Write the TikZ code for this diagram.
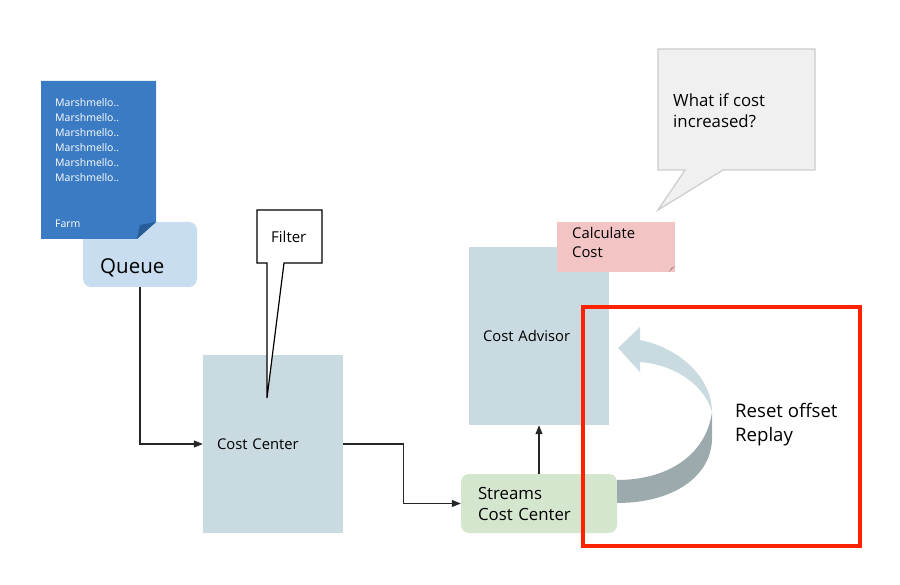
\documentclass[tikz,border=0pt]{standalone}
\usepackage{fontspec}
\setmainfont{Open Sans}
\usetikzlibrary{arrows.meta,positioning,calc}
\definecolor{dc}{RGB}{58,123,196}
\definecolor{df}{RGB}{40,92,150}
\definecolor{qc}{RGB}{200,222,240}
\definecolor{bc}{RGB}{201,219,224}
\definecolor{sc}{RGB}{213,230,206}
\definecolor{pc}{RGB}{242,196,196}
\definecolor{gc}{RGB}{240,240,240}
\definecolor{rib}{RGB}{156,170,173}
\definecolor{hl}{RGB}{255,34,0}
\newcommand{\fs}[2]{\fontsize{#1}{#2}\selectfont}
\tikzset{box/.style={fill=bc,minimum width=140pt,minimum height=178pt,text width=112pt,inner xsep=14pt,align=left},
 rbox/.style={rounded corners=8pt,inner sep=0pt},
 arr/.style={-{Triangle[length=9pt,width=7pt]},line width=1.1pt,draw=black!85},
 txt/.style={inner sep=0pt,anchor=west,align=left},
 every node/.style={font=\fs{14.8}{17}}}
\begin{document}
\begin{tikzpicture}[x=1pt,y=-1pt]
\path[use as bounding box] (0,0) rectangle (900,585);
% queue with message document
\node[rbox,fill=qc,minimum width=114pt,minimum height=65pt] (queue) at (140,254.5) {};
\node[txt,font=\fs{20.5}{22}] (qlab) at (100,268) {Queue};
\fill[dc] (41,81) -- (156,81) -- (156,222) -- (137,239) -- (41,239) -- cycle;
\fill[df] (156,222) -- (137,239) -- (140,225) -- cycle;
\node[inner sep=0pt,anchor=north west,align=left,text=white,font=\fs{10.5}{15}] (msgs) at (55,98.5)
 {Marshmello..\\Marshmello..\\Marshmello..\\Marshmello..\\Marshmello..\\Marshmello..};
\node[txt,text=white,font=\fs{10.5}{12}] (farm) at (55,224) {Farm};
% services
\node[box] (cc) at (273,444) {Cost Center};
\node[box] (adv) at (539,336) {Cost Advisor};
\node[rbox,fill=sc,minimum width=156pt,minimum height=59pt,text width=122pt,inner xsep=17pt,align=left,font=\fs{16.8}{21}] (streams) at (539,503.5) {Streams\\Cost Center};
\draw[arr] (queue.south) |- (cc.west);
\draw[arr] (cc.east) -- ++(60,0) |- (streams.west);
\draw[arr] (streams.north) -- (adv.south);
% filter callout
\draw[fill=white,line width=1.2pt] (257,210) -- (322,210) -- (322,263) -- (284,263) -- (267,398) -- (267,263) -- (257,263) -- cycle;
\node[txt,font=\fs{15}{17}] (filt) at (271,237) {Filter};
% calculate cost note
\fill[pc] (557,222) rectangle (675,272);
\fill[pc!70!black] (675,266) -- (669,272) -- (671,268) -- cycle;
\node[txt,font=\fs{14.8}{19}] (calc) at (572,242.5) {Calculate\\Cost};
% speech bubble
\draw[fill=gc,draw=black!20,line width=1.2pt] (658,49) -- (815,49) -- (815,170) -- (723,170) -- (658,210) -- (685,170) -- (658,170) -- cycle;
\node[txt,font=\fs{16.8}{21}] (ask) at (673,110.5) {What if cost\\increased?};
% replay ribbon
\fill[rib] (712,412) .. controls (706,455) and (668,480) .. (617,480) -- (617,503) .. controls (675,503) and (712,475) .. (712,438) -- cycle;
\fill[bc] (640,340) .. controls (680,348) and (712,378) .. (712,412) .. controls (704,385) and (676,365) .. (640,362)
 -- (640,372) -- (618,348) -- (640,327) -- cycle;
\node[txt,font=\fs{18.6}{24}] (replay) at (735,425) {Reset offset\\Replay};
\draw[hl,line width=4pt] (583,307.5) rectangle (859.5,545.5);
\end{tikzpicture}
\end{document}
